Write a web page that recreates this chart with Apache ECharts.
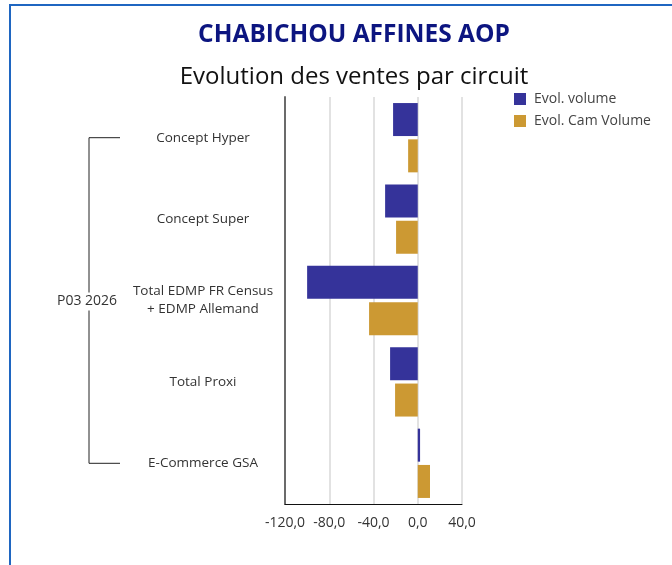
<!DOCTYPE html>
<html>
<head>
<meta charset="utf-8">
<script src="https://cdn.jsdelivr.net/npm/echarts@6/dist/echarts.min.js"></script>
<style>
  html, body { margin: 0; padding: 0; background: #fff; overflow: hidden; }
  #frame { position: absolute; left: 9px; top: 4px; width: 700px; height: 600px;
           border-left: 2px solid #1f66c1; border-top: 2px solid #1f66c1; }
  #chart { position: absolute; left: 0; top: 0; width: 672px; height: 565px; }
</style>
</head>
<body>
<div id="frame"></div>
<div id="chart"></div>
<script>
// Sales evolution by channel, period P03 2026
const periodLabel = 'P03 2026';
const circuits = [
  'Concept Hyper',
  'Concept Super',
  'Total EDMP FR Census\n+ EDMP Allemand',
  'Total Proxi',
  'E-Commerce GSA'
];
const evolVolume = [-22.3, -29.5, -100.0, -25.0, 2.1];
const evolCamVolume = [-8.7, -19.6, -44.0, -20.5, 11.1];
const xTicks = { min: -120, max: 40, interval: 40 };

const FONT = '"Open Sans", "Noto Sans", sans-serif';
const chart = echarts.init(document.getElementById('chart'), null, { renderer: 'canvas' });

chart.setOption({
  animation: false,
  textStyle: { fontFamily: FONT },
  title: [
    {
      text: 'CHABICHOU AFFINES AOP',
      left: 349, top: 18, textAlign: 'center',
      textStyle: { fontFamily: FONT, fontSize: 24.5, fontWeight: 'bold', color: '#0c1580' }
    },
    {
      text: 'Evolution des ventes par circuit',
      left: 349, top: 60, textAlign: 'center',
      textStyle: { fontFamily: FONT, fontSize: 24, fontWeight: 'normal', color: '#111' }
    }
  ],
  legend: {
    left: 514, top: 92, orient: 'vertical', padding: 0,
    itemWidth: 12, itemHeight: 12, itemGap: 8,
    icon: 'rect',
    textStyle: { fontFamily: FONT, fontSize: 14, color: '#444', padding: [0, 0, 0, 3] },
    data: ['Evol. volume', 'Evol. Cam Volume']
  },
  grid: { left: 285, right: 210, top: 97, bottom: 61, containLabel: false },
  xAxis: {
    type: 'value',
    min: xTicks.min, max: xTicks.max, interval: xTicks.interval,
    axisLine: { show: true, lineStyle: { color: '#111', width: 1 } },
    axisTick: { show: false },
    splitLine: { show: true, lineStyle: { color: '#d9d9d9', width: 1.5 } },
    axisLabel: {
      margin: 12, fontSize: 14, color: '#333', fontFamily: FONT,
      formatter: v => v.toFixed(1).replace('.', ',')
    }
  },
  yAxis: {
    type: 'category',
    inverse: true,
    data: circuits,
    axisLine: { show: true, onZero: false, lineStyle: { color: '#6b6b6b', width: 2 } },
    axisTick: { show: false },
    axisLabel: {
      align: 'center', margin: 82, fontSize: 13.5, color: '#333',
      fontFamily: FONT, lineHeight: 18
    }
  },
  series: [
    {
      name: 'Evol. volume', type: 'bar', data: evolVolume,
      barWidth: 33, barGap: '10%',
      itemStyle: { color: '#35339a' }
    },
    {
      name: 'Evol. Cam Volume', type: 'bar', data: evolCamVolume,
      barWidth: 33, barGap: '10%',
      itemStyle: { color: '#cc9933' }
    }
  ]
});

// Group bracket spanning the first to last channel, positioned from the category axis
const yTop = chart.convertToPixel({ yAxisIndex: 0 }, circuits[0]);
const yBottom = chart.convertToPixel({ yAxisIndex: 0 }, circuits[circuits.length - 1]);
const yMid = chart.convertToPixel({ yAxisIndex: 0 }, circuits[Math.floor(circuits.length / 2)]);
const bx = 89, bxEnd = 120;
chart.setOption({
  graphic: [
    {
      type: 'polyline', silent: true,
      shape: { points: [[bxEnd, yTop], [bx, yTop], [bx, yBottom], [bxEnd, yBottom]] },
      style: { stroke: '#222', lineWidth: 1, fill: null }
    },
    {
      type: 'text', silent: true,
      x: bx - 2, y: yMid + 1,
      style: {
        text: periodLabel, fontFamily: FONT, fontSize: 14, fill: '#333',
        align: 'center', verticalAlign: 'middle',
        backgroundColor: '#fff', padding: [2, 1]
      }
    }
  ]
});
</script>
</body>
</html>
